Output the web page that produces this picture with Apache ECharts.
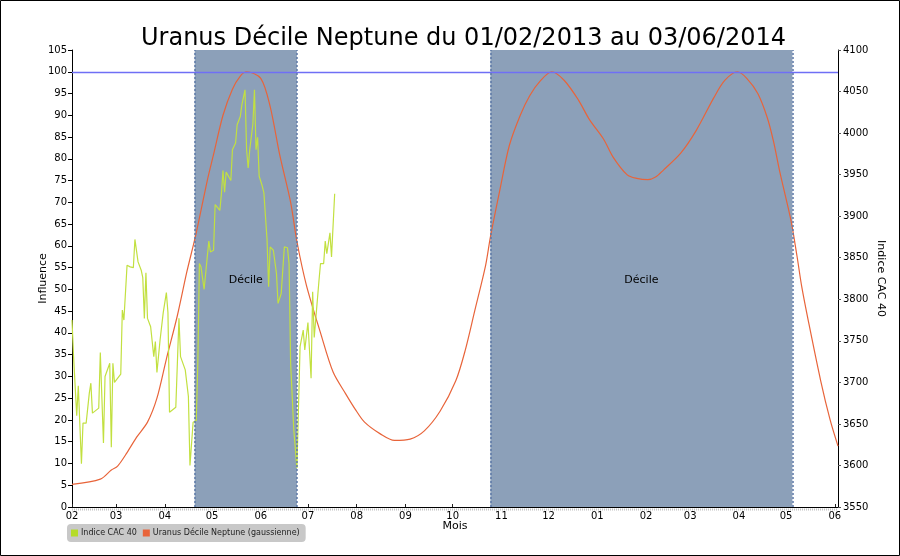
<!DOCTYPE html>
<html>
<head>
<meta charset="utf-8">
<script src="https://cdn.jsdelivr.net/npm/echarts@6/dist/echarts.min.js"></script>
<style>
  html, body { margin: 0; padding: 0; background: #fff; }
  #chart { width: 900px; height: 556px; }
</style>
</head>
<body>
<div id="chart"></div>
<script>
// axe des dates
const startDate = '2013-02-01';
const endDate = '2014-06-03';
const tickDates = ['2013-02-01', '2013-03-01', '2013-04-01', '2013-05-01', '2013-06-01', '2013-07-01',
  '2013-08-01', '2013-09-01', '2013-10-01', '2013-11-01', '2013-12-01', '2014-01-01',
  '2014-02-01', '2014-03-01', '2014-04-01', '2014-05-01', '2014-06-01'];
const tickLabels = ['02', '03', '04', '05', '06', '07', '08', '09', '10', '11', '12', '01', '02', '03', '04', '05', '06'];

// Uranus Décile Neptune (gaussienne) - axe gauche
const influenceDates = ['2013-02-01', '2013-02-19', '2013-02-26', '2013-03-02', '2013-03-08', '2013-03-14',
  '2013-03-21', '2013-03-27', '2013-04-02', '2013-04-09', '2013-04-15', '2013-04-21', '2013-04-28',
  '2013-05-02', '2013-05-08', '2013-05-14', '2013-05-19', '2013-05-23', '2013-06-01', '2013-06-07',
  '2013-06-13', '2013-06-20', '2013-06-24', '2013-06-30', '2013-07-09', '2013-07-17', '2013-07-25',
  '2013-07-31', '2013-08-06', '2013-08-16', '2013-08-25', '2013-09-04', '2013-09-13', '2013-09-23',
  '2013-10-03', '2013-10-09', '2013-10-15', '2013-10-22', '2013-10-25', '2013-10-31', '2013-11-06',
  '2013-11-13', '2013-11-19', '2013-11-26', '2013-12-03', '2013-12-11', '2013-12-20', '2013-12-27',
  '2014-01-05', '2014-01-11', '2014-01-20', '2014-01-26', '2014-02-02', '2014-02-07', '2014-02-12',
  '2014-02-23', '2014-03-05', '2014-03-16', '2014-03-23', '2014-03-31', '2014-04-06', '2014-04-13',
  '2014-04-19', '2014-04-23', '2014-04-27', '2014-05-04', '2014-05-08', '2014-05-11', '2014-05-15',
  '2014-05-23', '2014-05-29', '2014-06-03'];
const influenceValues = [5.2, 6.4, 8.5, 9.4, 12.5, 16,
  19.5, 25, 34, 44, 54, 63, 75,
  81, 90, 96, 99, 100, 98.5, 92,
  81, 70, 61, 51, 40, 31, 26,
  22.5, 19.5, 16.8, 15.3, 15.6, 17.5, 22,
  29, 36, 45, 55.6, 62, 72.8, 83,
  90, 94.5, 98, 100, 98, 93.5, 89,
  84.5, 80.4, 76.3, 75.5, 75.2, 75.8, 77.4,
  81.3, 86.6, 94, 98, 100, 98.5, 95,
  89.5, 84, 77, 66, 57.5, 50.5, 43,
  29, 20, 14];

// Indice CAC 40 - axe droit
const cacDates = ['2013-02-01', '2013-02-02', '2013-02-04', '2013-02-05', '2013-02-07', '2013-02-08',
  '2013-02-10', '2013-02-12', '2013-02-13', '2013-02-14', '2013-02-18', '2013-02-19', '2013-02-21',
  '2013-02-22', '2013-02-25', '2013-02-26', '2013-02-27', '2013-02-28', '2013-03-04', '2013-03-05',
  '2013-03-06', '2013-03-08', '2013-03-10', '2013-03-12', '2013-03-13', '2013-03-15', '2013-03-17',
  '2013-03-18', '2013-03-19', '2013-03-20', '2013-03-21', '2013-03-23', '2013-03-25', '2013-03-26',
  '2013-03-27', '2013-03-29', '2013-03-31', '2013-04-02', '2013-04-03', '2013-04-04', '2013-04-08',
  '2013-04-10', '2013-04-11', '2013-04-14', '2013-04-16', '2013-04-17', '2013-04-18', '2013-04-19',
  '2013-04-21', '2013-04-22', '2013-04-23', '2013-04-24', '2013-04-26', '2013-04-28', '2013-04-29',
  '2013-04-30', '2013-05-02', '2013-05-03', '2013-05-06', '2013-05-07', '2013-05-08', '2013-05-09',
  '2013-05-10', '2013-05-13', '2013-05-14', '2013-05-16', '2013-05-17', '2013-05-19', '2013-05-20',
  '2013-05-22', '2013-05-23', '2013-05-24', '2013-05-25', '2013-05-27', '2013-05-28', '2013-05-29',
  '2013-05-30', '2013-05-31', '2013-06-02', '2013-06-03', '2013-06-04', '2013-06-05', '2013-06-06',
  '2013-06-07', '2013-06-09', '2013-06-11', '2013-06-12', '2013-06-14', '2013-06-16', '2013-06-18',
  '2013-06-19', '2013-06-20', '2013-06-22', '2013-06-24', '2013-06-26', '2013-06-28', '2013-06-29',
  '2013-07-01', '2013-07-03', '2013-07-04', '2013-07-05', '2013-07-08', '2013-07-09', '2013-07-11',
  '2013-07-12', '2013-07-13', '2013-07-15', '2013-07-16', '2013-07-18'];
const cacValues = [3775, 3731, 3660, 3696, 3602, 3651,
  3651, 3687, 3699, 3663, 3669, 3736, 3627,
  3707, 3723, 3622, 3723, 3700, 3710, 3787,
  3775, 3841, 3839, 3838, 3872, 3845, 3835,
  3826, 3777, 3832, 3777, 3767, 3731, 3749,
  3712, 3751, 3784, 3808, 3784, 3664, 3670,
  3777, 3731, 3715, 3683, 3600, 3600, 3652,
  3654, 3723, 3843, 3839, 3812, 3851, 3870,
  3857, 3859, 3914, 3907, 3927, 3955, 3929,
  3953, 3943, 3980, 3988, 4010, 4020, 4034,
  4052, 3980, 3958, 3980, 4011, 4052, 3980,
  3995, 3948, 3936, 3928, 3926, 3872, 3815,
  3863, 3859, 3831, 3795, 3807, 3863, 3862,
  3843, 3723, 3643, 3597, 3743, 3763, 3739,
  3772, 3705, 3809, 3754, 3822, 3843, 3843,
  3870, 3855, 3880, 3851, 3927];

// périodes de Décile
const decileStarts = ['2013-04-20', '2013-10-25'];
const decileEnds = ['2013-06-24', '2014-05-05'];
const seuil = 100;

const dayOf = (s) => (Date.parse(s) - Date.parse(startDate)) / 86400000;

const chart = echarts.init(document.getElementById('chart'));
const font = 'DejaVu Sans';
const tickDays = tickDates.map(dayOf);

const option = {
  animation: false,
  backgroundColor: '#fff',
  textStyle: { fontFamily: font },
  title: {
    text: 'Uranus Décile Neptune du 01/02/2013 au 03/06/2014',
    left: 136,
    top: 22,
    textStyle: { fontFamily: font, fontSize: 24, fontWeight: 'normal', color: '#000' },
  },
  legend: {
    left: 67,
    top: 524,
    padding: [5, 6, 5, 4],
    itemWidth: 7,
    itemHeight: 7,
    itemGap: 6,
    icon: 'rect',
    backgroundColor: '#c8c8c8',
    borderRadius: 4,
    textStyle: { fontFamily: font, fontSize: 8, color: '#222', padding: [0, 0, 0, -2] },
    data: ['Indice CAC 40', 'Uranus Décile Neptune (gaussienne)'],
  },
  grid: { left: 72, right: 62, top: 50, bottom: 49 },
  xAxis: {
    type: 'value',
    min: 0,
    max: dayOf(endDate),
    name: 'Mois',
    nameLocation: 'middle',
    nameGap: 14,
    nameMoveOverlap: false,
    nameTextStyle: { fontSize: 11, color: '#000' },
    splitLine: { show: false },
    axisLine: { lineStyle: { color: '#000' } },
    axisTick: { inside: true, length: 3, customValues: tickDays, lineStyle: { color: '#222' } },
    axisLabel: {
      customValues: tickDays,
      margin: 4,
      fontSize: 10,
      color: '#000',
      formatter: (v) => tickLabels[tickDays.indexOf(v)] || '',
    },
  },
  yAxis: [
    {
      type: 'value',
      min: 0,
      max: 105,
      interval: 5,
      name: 'Influence',
      nameLocation: 'middle',
      nameGap: 23,
      nameMoveOverlap: false,
      nameTextStyle: { fontSize: 11, color: '#000' },
      splitLine: { show: false },
      axisLine: { show: true, lineStyle: { color: '#000' } },
      axisTick: { show: true, length: 4, lineStyle: { color: '#000' } },
      axisLabel: { fontSize: 10, color: '#000', margin: 5 },
    },
    {
      type: 'value',
      min: 3550,
      max: 4100,
      interval: 50,
      position: 'right',
      name: 'Indice CAC 40',
      nameLocation: 'middle',
      nameRotate: -90,
      nameGap: 37,
      nameMoveOverlap: false,
      nameTextStyle: { fontSize: 11, color: '#000' },
      splitLine: { show: false },
      axisLine: { show: true, lineStyle: { color: '#000' } },
      axisTick: { show: true, length: 3, lineStyle: { color: '#555' } },
      axisLabel: { fontSize: 10, color: '#000', margin: 5, formatter: (v) => String(v) },
    },
  ],
  graphic: [
    {
      type: 'line',
      shape: { x1: 72, y1: 509.5, x2: 838, y2: 509.5 },
      style: { stroke: '#c4c4c4', lineWidth: 2, lineDash: [1, 1] },
      silent: true,
    },
    {
      type: 'rect',
      shape: { x: 0.5, y: 0.5, width: 899, height: 555 },
      style: { fill: 'none', stroke: '#000', lineWidth: 1 },
      silent: true,
      z: 100,
    },
  ],
  series: [
    {
      name: 'Uranus Décile Neptune (gaussienne)',
      type: 'line',
      yAxisIndex: 0,
      data: influenceDates.map((d, i) => [dayOf(d), influenceValues[i]]),
      smooth: 0.3,
      showSymbol: false,
      itemStyle: { color: '#e8643a' },
      lineStyle: { color: '#e8643a', width: 1.2 },
      z: 3,
      markArea: {
        silent: true,
        itemStyle: { color: '#8ca0b9' },
        label: {
          show: true,
          position: 'inside',
          color: '#000',
          fontSize: 11,
          fontFamily: font,
          offset: [0, 2],
        },
        data: decileStarts.map((s, i) => [
          { name: 'Décile', xAxis: dayOf(s) },
          { xAxis: dayOf(decileEnds[i]) },
        ]),
      },
      markLine: {
        silent: true,
        symbol: 'none',
        label: { show: false },
        data: [
          { yAxis: seuil, lineStyle: { color: '#6f6ff5', width: 1.3, type: 'solid' } },
          ...decileStarts.concat(decileEnds).map((s) => ({
            xAxis: dayOf(s),
            lineStyle: { color: '#5c78a6', width: 1.5, type: [2, 2] },
          })),
        ],
      },
    },
    {
      name: 'Indice CAC 40',
      type: 'line',
      yAxisIndex: 1,
      data: cacDates.map((d, i) => [dayOf(d), cacValues[i]]),
      showSymbol: false,
      itemStyle: { color: '#b5dc2a' },
      lineStyle: { color: '#c2e040', width: 1.2 },
      z: 4,
    },
  ],
};

chart.setOption(option);
</script>
</body>
</html>
